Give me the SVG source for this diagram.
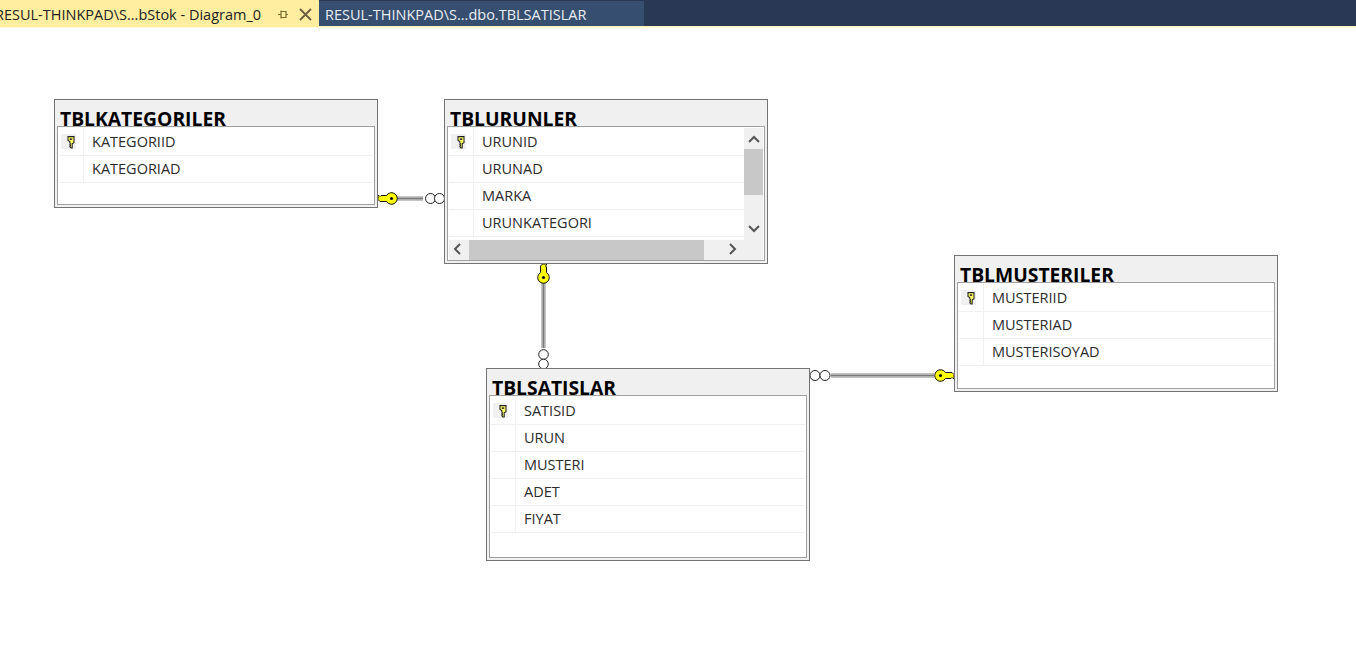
<svg xmlns="http://www.w3.org/2000/svg" width="1356" height="653" viewBox="0 0 1356 653">
<style>
.outer{fill:#f0f0f0;stroke:#747474;stroke-width:1}
.inner{fill:#fff;stroke:#a0a0a0;stroke-width:1}
.row{stroke:#f0f0f0;stroke-width:1;fill:none}
.keybg{fill:#f0f0f0}
.title{font-family:"Open Sans","Noto Sans",sans-serif;font-weight:700;font-size:19.300px;fill:#000}
.col{font-family:"Open Sans","Noto Sans",sans-serif;font-size:14.500px;fill:#2b2b2b}
.tab{font-family:"Open Sans","Noto Sans",sans-serif;font-size:14.500px}
.chev{fill:none;stroke:#555;stroke-width:2}
.rel1{stroke:#7a7a7a;stroke-width:1.600;fill:none}
.rel2{stroke:#c4c4c4;stroke-width:5;fill:none}
.ring{fill:#fff;stroke:#222;stroke-width:1}
.bigkey{fill:#ffff00;stroke:#111;stroke-width:1}
</style>
<defs>
<g id="pk" transform="scale(1.200)">
<path d="M-2.500 -4.500h5v5l-1.500 1v3.500h-1l-1 -1l.6 -.8l-.6 -.8l.6 -.8l-.6 -.9v-1l-1.500 -1z" fill="#ffff66" stroke="#222" stroke-width=".9"/>
<rect x="-1" y="-3" width="2" height="1.200" fill="#222"/>
</g>
<g id="relkey">
<path class="bigkey" d="M0 -1l-2 -2h-6.500a5.800 5.800 0 1 0 0 6h5.500l1 -1l1 1h1z"/>
<circle cx="-13.500" cy="0" r="1.600" fill="#111"/>
</g>
</defs>
<rect width="1356" height="653" fill="#fff"/>
<g id="tabs">
<rect x="0" y="0" width="1356" height="26" fill="#293955"/>
<rect x="0" y="26" width="1356" height="1.500" fill="#fff3b0"/>
<rect x="0" y="0" width="319" height="27" fill="#ffeea0"/>
<rect x="319" y="1" width="325" height="25" fill="#364e6f"/>
<text class="tab" x="-5" y="20" fill="#222">RESUL-THINKPAD\S...bStok - Diagram_0</text>
<path d="M278 14.500h3M281 10.500v8M281 11.500h5v6h-5M286 14.500h2" fill="none" stroke="#7a6a30" stroke-width="1.200"/>
<path d="M300 9l11 11M311 9l-11 11" fill="none" stroke="#6a6040" stroke-width="1.800"/>
<text class="tab" x="325" y="20" fill="#e8edf3">RESUL-THINKPAD\S...dbo.TBLSATISLAR</text>
</g>
<g id="connectors">
<path class="rel2" d="M397 198.500H423"/><path class="rel1" d="M397 198.500H423"/>
<circle class="ring" cx="430.500" cy="198.500" r="5"/><circle class="ring" cx="439.500" cy="198.500" r="5"/>
<use href="#relkey" transform="translate(378 198.500) rotate(180)"/>
<path class="rel2" d="M543.500 283V348"/><path class="rel1" d="M543.500 283V348"/>
<circle class="ring" cx="543.500" cy="354.500" r="4.800"/><circle class="ring" cx="543.500" cy="364" r="4.800"/>
<use href="#relkey" transform="translate(543.500 264) rotate(-90)"/>
<path class="rel2" d="M831 375.500H934"/><path class="rel1" d="M831 375.500H934"/>
<circle class="ring" cx="815" cy="375.500" r="5"/><circle class="ring" cx="825" cy="375.500" r="5"/>
<use href="#relkey" transform="translate(954 375.500)"/>
</g>
<g id="TBLKATEGORILER">
<rect class="outer" x="54.500" y="99.500" width="323" height="108"/>
<rect class="inner" x="57.500" y="126.500" width="317" height="78"/>
<path class="row" d="M59 155.500H373M59 182.500H373M83.500 128V182"/>
<rect class="keybg" x="61" y="134" width="15" height="15"/>
<use href="#pk" x="71" y="142"/>
<text class="title" x="60" y="126">TBLKATEGORILER</text>
<text class="col" x="92" y="146.500">KATEGORIID</text>
<text class="col" x="92" y="173.500">KATEGORIAD</text>
</g>
<g id="TBLURUNLER">
<rect class="outer" x="444.500" y="99.500" width="323" height="164"/>
<rect class="inner" x="447.500" y="126.500" width="317" height="134"/>
<path class="row" d="M449 155.500H744M449 182.500H744M449 209.500H744M449 236.500H744M473.500 128V236"/>
<rect x="744" y="128" width="19" height="132" fill="#f0f0f0"/>
<rect x="449" y="240" width="314" height="20" fill="#f0f0f0"/>
<rect x="744" y="149" width="19" height="46" fill="#c8c8c8"/>
<rect x="469" y="240" width="235" height="20" fill="#c8c8c8"/>
<path class="chev" d="M749 142l5 -5l5 5M749 226l5 5l5 -5M460 244l-5 5l5 5M730 244l5 5l-5 5"/>
<rect class="keybg" x="451" y="134" width="15" height="15"/>
<use href="#pk" x="461" y="142"/>
<text class="title" x="450" y="126">TBLURUNLER</text>
<text class="col" x="482" y="146.500">URUNID</text>
<text class="col" x="482" y="173.500">URUNAD</text>
<text class="col" x="482" y="200.500">MARKA</text>
<text class="col" x="482" y="227.500">URUNKATEGORI</text>
</g>
<g id="TBLSATISLAR">
<rect class="outer" x="486.500" y="368.500" width="323" height="192"/>
<rect class="inner" x="489.500" y="395.500" width="317" height="162"/>
<path class="row" d="M491 424.500H805M491 451.500H805M491 478.500H805M491 505.500H805M491 532.500H805M515.500 397V532"/>
<rect class="keybg" x="493" y="403" width="15" height="15"/>
<use href="#pk" x="503" y="411"/>
<text class="title" x="492" y="395">TBLSATISLAR</text>
<text class="col" x="524" y="415.500">SATISID</text>
<text class="col" x="524" y="442.500">URUN</text>
<text class="col" x="524" y="469.500">MUSTERI</text>
<text class="col" x="524" y="496.500">ADET</text>
<text class="col" x="524" y="523.500">FIYAT</text>
</g>
<g id="TBLMUSTERILER">
<rect class="outer" x="954.500" y="255.500" width="323" height="136"/>
<rect class="inner" x="957.500" y="282.500" width="317" height="106"/>
<path class="row" d="M959 311.500H1273M959 338.500H1273M959 365.500H1273M983.500 284V365"/>
<rect class="keybg" x="961" y="290" width="15" height="15"/>
<use href="#pk" x="971" y="298"/>
<text class="title" x="960" y="282">TBLMUSTERILER</text>
<text class="col" x="992" y="302.500">MUSTERIID</text>
<text class="col" x="992" y="329.500">MUSTERIAD</text>
<text class="col" x="992" y="356.500">MUSTERISOYAD</text>
</g>
</svg>
